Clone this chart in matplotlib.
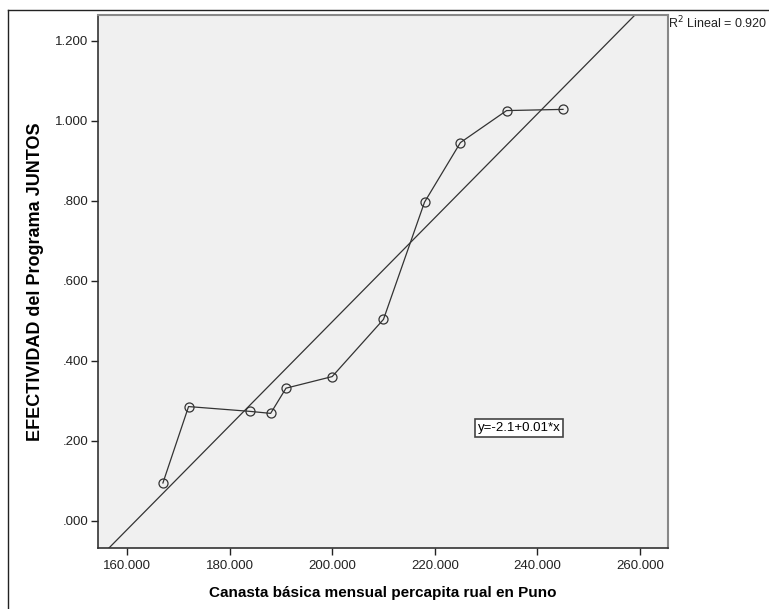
import numpy as np
import matplotlib.pyplot as plt
from matplotlib.lines import Line2D

plt.rcParams['font.family'] = ['Liberation Sans', 'DejaVu Sans']

# canasta basica (x) vs efectividad (y)
canasta = [167, 172, 184, 188, 191, 200, 210, 218, 225, 234, 245]
efectividad = [0.095, 0.286, 0.274, 0.269, 0.332, 0.361, 0.504, 0.797, 0.946, 1.026, 1.029]
x_ticks = [160, 180, 200, 220, 240, 260]
y_ticks = [0.0, 0.2, 0.4, 0.6, 0.8, 1.0, 1.2]
r2_label = "R$^2$ Lineal = 0.920"
eq_label = "y=-2.1+0.01*x"


def fmt_y(v):
    s = "%.3f" % v
    if s.startswith("0"):
        s = s[1:]
    return s


fig = plt.figure(figsize=(7.69, 6.09), dpi=100)
ax = fig.add_axes([0.1274, 0.1002, 0.7412, 0.8752])
ax.set_facecolor("#f0f0f0")

# outer frame (only top and left visible in the crop)
fig.add_artist(Line2D([8 / 769, 8 / 769], [0, 1 - 10 / 609], color="#222222", lw=1.0))
fig.add_artist(Line2D([8 / 769, 1], [1 - 10 / 609, 1 - 10 / 609], color="#222222", lw=1.0))

# fit line from the data
slope, intercept = np.polyfit(canasta, efectividad, 1)
xl = np.array([150, 270])
ax.plot(xl, intercept + slope * xl, color="#333333", lw=0.9)

ax.plot(canasta, efectividad, color="#333333", lw=0.9, marker="o",
        markersize=6.5, markerfacecolor="none", markeredgecolor="#333333",
        markeredgewidth=0.9)

ax.set_xlim(154.34, 265.46)
ax.set_ylim(-0.0675, 1.265)
ax.set_xticks(x_ticks)
ax.set_xticklabels(["%.3f" % v for v in x_ticks])
ax.set_yticks(y_ticks)
ax.set_yticklabels([fmt_y(v) for v in y_ticks])
ax.tick_params(direction="out", length=5, width=1, colors="#222222",
               labelsize=9.5, labelcolor="#222222", pad=2)
ax.tick_params(axis="x", pad=4)

for side in ["left", "bottom"]:
    ax.spines[side].set_color("#333333")
    ax.spines[side].set_linewidth(1.2)
for side in ["right", "top"]:
    ax.spines[side].set_color("#888888")
    ax.spines[side].set_linewidth(1.5)

ax.set_xlabel("Canasta básica mensual percapita rual en Puno",
              fontsize=11, fontweight="bold", labelpad=10)
ax.set_ylabel("EFECTIVIDAD del Programa JUNTOS",
              fontsize=13, fontweight="bold")
ax.yaxis.set_label_coords(-0.095, 0.5)

ax.text(236.5, 0.2325, eq_label, fontsize=9.5, ha="center", va="center",
        bbox=dict(boxstyle="square,pad=0.2", facecolor="white",
                  edgecolor="#444444", linewidth=1.2))

fig.text(668 / 769, 1 - 15 / 609, r2_label, fontsize=9, ha="left", va="top",
         color="#222222")

fig.savefig("out.png", dpi=100)
